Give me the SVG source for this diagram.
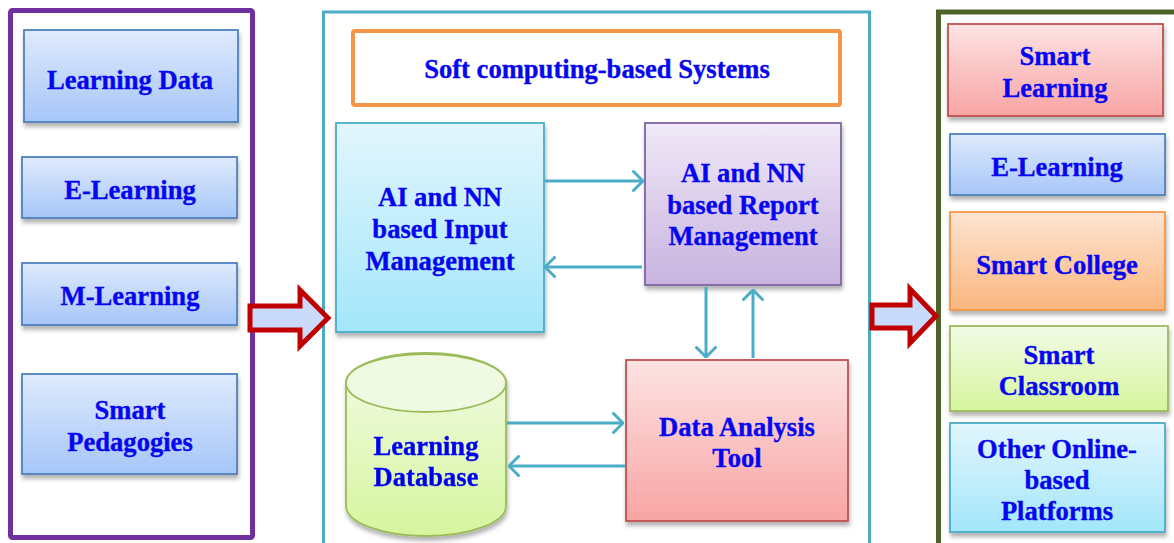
<svg xmlns="http://www.w3.org/2000/svg" width="1174" height="543" viewBox="0 0 1174 543">
<style>
  .t{font-family:"Liberation Serif","Times New Roman",serif;font-weight:bold;font-size:26.6px;fill:#0606f0;stroke:#0606f0;stroke-width:0.35;text-anchor:middle}
  .box{stroke-width:1.8}
  .cn{stroke:#4bacc6;stroke-width:3;fill:none;marker-end:url(#chev)}
  .blk{fill:#c9dafa;stroke:#c00000;stroke-width:5;stroke-linejoin:miter}
</style>
<defs>
  <linearGradient id="gBlue" x1="0" y1="0" x2="0" y2="1"><stop offset="0" stop-color="#dfeafc"/><stop offset="1" stop-color="#a6c6f8"/></linearGradient>
  <linearGradient id="gCyan" x1="0" y1="0" x2="0" y2="1"><stop offset="0" stop-color="#e2f6fd"/><stop offset="1" stop-color="#a3e6fa"/></linearGradient>
  <linearGradient id="gPurp" x1="0" y1="0" x2="0" y2="1"><stop offset="0" stop-color="#f0e9f7"/><stop offset="1" stop-color="#c8b3e0"/></linearGradient>
  <linearGradient id="gRed" x1="0" y1="0" x2="0" y2="1"><stop offset="0" stop-color="#fde3e3"/><stop offset="1" stop-color="#f8a4a4"/></linearGradient>
  <linearGradient id="gGreen" x1="0" y1="0" x2="0" y2="1"><stop offset="0" stop-color="#f2fbe6"/><stop offset="1" stop-color="#d6f59e"/></linearGradient>
  <linearGradient id="gOrange" x1="0" y1="0" x2="0" y2="1"><stop offset="0" stop-color="#fde4d2"/><stop offset="1" stop-color="#fbb67e"/></linearGradient>
  <filter id="sh" x="-10%" y="-10%" width="130%" height="130%"><feDropShadow dx="1" dy="4" stdDeviation="2" flood-color="#000" flood-opacity="0.3"/></filter>
  <marker id="chev" viewBox="0 0 12 22" refX="11" refY="11" markerWidth="12" markerHeight="22" orient="auto" markerUnits="userSpaceOnUse">
    <path d="M1.5,1.5 L11,11 L1.5,20.5" fill="none" stroke="#4bacc6" stroke-width="3" stroke-linecap="round"/>
  </marker>
</defs>
<rect width="1174" height="543" fill="#fff"/>

<!-- containers -->
<g id="left-panel"><rect x="10.5" y="10.5" width="242" height="527" rx="2" fill="#fff" stroke="#7030a0" stroke-width="5"/></g>
<g id="middle-panel"><rect x="323.5" y="12" width="546" height="540" fill="#fff" stroke="#4bacc6" stroke-width="3"/></g>
<g id="right-panel"><rect x="938.5" y="12" width="245" height="540" fill="#fff" stroke="#4f6228" stroke-width="5"/></g>

<!-- left nodes -->
<g id="learning-data"><rect class="box" x="24" y="30" width="214" height="92" fill="url(#gBlue)" stroke="#4f81bd" filter="url(#sh)"/><text class="t" x="130" y="89">Learning Data</text></g>
<g id="e-learning-left"><rect class="box" x="22" y="157" width="215" height="61" fill="url(#gBlue)" stroke="#4f81bd" filter="url(#sh)"/><text class="t" x="130" y="199">E-Learning</text></g>
<g id="m-learning"><rect class="box" x="22" y="263" width="215" height="62" fill="url(#gBlue)" stroke="#4f81bd" filter="url(#sh)"/><text class="t" x="130" y="305">M-Learning</text></g>
<g id="smart-pedagogies"><rect class="box" x="22" y="374" width="215" height="100" fill="url(#gBlue)" stroke="#4f81bd" filter="url(#sh)"/><text class="t" x="130" y="419">Smart</text><text class="t" x="130" y="451">Pedagogies</text></g>

<!-- middle nodes -->
<g id="soft-computing"><rect x="353" y="31" width="487" height="74" rx="2" fill="#fff" stroke="#f79646" stroke-width="4"/><text class="t" x="597" y="78">Soft computing-based Systems</text></g>
<g id="input-mgmt"><rect class="box" x="336" y="123" width="208" height="209" fill="url(#gCyan)" stroke="#4bacc6" filter="url(#sh)"/><text class="t" x="440" y="206">AI and NN</text><text class="t" x="440" y="238">based Input</text><text class="t" x="440" y="270">Management</text></g>
<g id="report-mgmt"><rect class="box" x="645" y="123" width="196" height="162" fill="url(#gPurp)" stroke="#8064a2" filter="url(#sh)"/><text class="t" x="743" y="182">AI and NN</text><text class="t" x="743" y="214">based Report</text><text class="t" x="743" y="245">Management</text></g>
<g id="learning-database" filter="url(#sh)"><path d="M346,383 L346,506 A80,30 0 0 0 506,506 L506,383 A80,30 0 0 0 346,383 Z" fill="url(#gGreen)" stroke="#9bbb59" stroke-width="1.8"/><ellipse cx="426" cy="383" rx="80" ry="29" fill="#f0fae2" stroke="#9bbb59" stroke-width="1.8"/><text class="t" x="426" y="455">Learning</text><text class="t" x="426" y="486">Database</text></g>
<g id="data-analysis"><rect class="box" x="626" y="360" width="222" height="161" fill="url(#gRed)" stroke="#c0504d" filter="url(#sh)"/><text class="t" x="737" y="436">Data Analysis</text><text class="t" x="737" y="467">Tool</text></g>

<!-- right nodes -->
<g id="smart-learning"><rect class="box" x="948" y="24" width="215" height="92" fill="url(#gRed)" stroke="#c0504d" filter="url(#sh)"/><text class="t" x="1055" y="65">Smart</text><text class="t" x="1055" y="97">Learning</text></g>
<g id="e-learning-right"><rect class="box" x="950" y="134" width="215" height="61" fill="url(#gBlue)" stroke="#4f81bd" filter="url(#sh)"/><text class="t" x="1057" y="176">E-Learning</text></g>
<g id="smart-college"><rect class="box" x="950" y="212" width="215" height="98" fill="url(#gOrange)" stroke="#f79646" filter="url(#sh)"/><text class="t" x="1057" y="274">Smart College</text></g>
<g id="smart-classroom"><rect class="box" x="950" y="326" width="218" height="85" fill="url(#gGreen)" stroke="#9bbb59" filter="url(#sh)"/><text class="t" x="1059" y="364">Smart</text><text class="t" x="1059" y="395">Classroom</text></g>
<g id="other-platforms"><rect class="box" x="950" y="423" width="215" height="109" fill="url(#gCyan)" stroke="#4bacc6" filter="url(#sh)"/><text class="t" x="1057" y="458">Other Online-</text><text class="t" x="1057" y="489">based</text><text class="t" x="1057" y="520">Platforms</text></g>

<!-- connectors -->
<g id="connectors">
  <path class="blk" d="M250,306 L300,306 L300,290 L328,318 L300,346 L300,330 L250,330 Z"/>
  <path class="blk" d="M872,305 L910,305 L910,289 L936,316 L910,343 L910,328 L872,328 Z"/>
  <line class="cn" x1="545" y1="181" x2="643" y2="181"/>
  <line class="cn" x1="642" y1="267" x2="545" y2="267"/>
  <line class="cn" x1="706" y1="287" x2="706" y2="357"/>
  <line class="cn" x1="753" y1="358" x2="753" y2="290"/>
  <line class="cn" x1="507" y1="423" x2="623" y2="423"/>
  <line class="cn" x1="625" y1="466" x2="509" y2="466"/>
</g>
</svg>
